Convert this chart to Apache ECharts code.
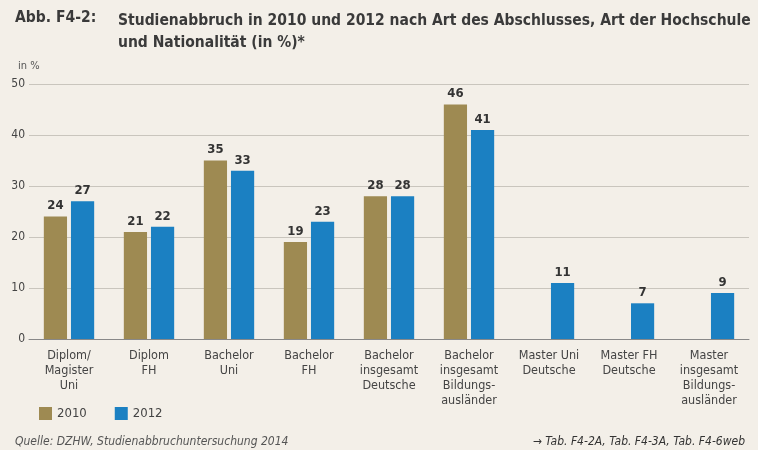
<!DOCTYPE html>
<html><head><meta charset="utf-8">
<script src="https://cdn.jsdelivr.net/npm/echarts@6/dist/echarts.min.js"></script>
<style>html,body{margin:0;padding:0;background:#f3efe8;}#c{width:758px;height:450px;}</style>
</head><body><div id="c"></div>
<script>
var categories = ['Diplom/\nMagister\nUni','Diplom\nFH','Bachelor\nUni','Bachelor\nFH','Bachelor\ninsgesamt\nDeutsche','Bachelor\ninsgesamt\nBildungs-\nausländer','Master Uni\nDeutsche','Master FH\nDeutsche','Master\ninsgesamt\nBildungs-\nausländer'];
var values2010 = [24,21,35,19,28,46,null,null,null];
var values2012 = [27,22,33,23,28,41,11,7,9];
var yTicks = [0,10,20,30,40,50];
var FONT = '"Liberation Sans Narrow","DejaVu Sans Condensed",sans-serif';
var chart = echarts.init(document.getElementById('c'));
var lbl = {show:true,position:'top',fontFamily:FONT,fontWeight:'bold',fontSize:13,color:'#333',distance:4};
chart.setOption({
  backgroundColor:'#f3efe8',
  textStyle:{fontFamily:FONT},
  title:[
    {text:'Abb. F4-2:',left:10,top:5,textStyle:{fontFamily:FONT,fontWeight:'bold',fontSize:15.5,color:'#3a3a3a'}},
    {text:'Studienabbruch in 2010 und 2012 nach Art des Abschlusses, Art der Hochschule\nund Nationalität (in %)*',left:113,top:5,textStyle:{fontFamily:FONT,fontWeight:'bold',fontSize:15.5,lineHeight:22,color:'#3a3a3a'}},
    {text:'in %',left:13,top:56,textStyle:{fontFamily:FONT,fontWeight:'normal',fontSize:11,color:'#555'}},
    {text:'Quelle: DZHW, Studienabbruchuntersuchung 2014',left:10,top:431,textStyle:{fontFamily:FONT,fontWeight:'normal',fontStyle:'italic',fontSize:12,color:'#555'}},
    {text:'→ Tab. F4-2A, Tab. F4-3A, Tab. F4-6web',right:8,top:431,textStyle:{fontFamily:FONT,fontWeight:'normal',fontStyle:'italic',fontSize:12,color:'#333'}}
  ],
  legend:{left:34,top:402,itemWidth:13,itemHeight:13,itemGap:28,icon:'rect',textStyle:{fontFamily:FONT,fontSize:13,color:'#444'},data:['2010','2012']},
  grid:{left:29,right:9,top:84,bottom:111,containLabel:false},
  xAxis:{type:'category',data:categories,axisTick:{show:false},axisLine:{show:true,lineStyle:{color:'#888',width:1}},
    axisLabel:{interval:0,fontFamily:FONT,fontSize:12.5,lineHeight:15,color:'#444',margin:9}},
  yAxis:{type:'value',min:0,max:50,interval:10,axisLine:{show:false},axisTick:{show:false},
    splitLine:{lineStyle:{color:'#c9c5bd',width:1}},
    axisLabel:{fontFamily:FONT,fontSize:12,color:'#444',margin:4,formatter:function(v){return yTicks.indexOf(v)>=0?String(v):'';}}},
  series:[
    {name:'2010',type:'bar',data:values2010,itemStyle:{color:'#9e8a52'},barWidth:'29%',barGap:'17%',label:lbl},
    {name:'2012',type:'bar',data:values2012,itemStyle:{color:'#1b80c2'},barWidth:'29%',label:lbl}
  ]
});
</script></body></html>
